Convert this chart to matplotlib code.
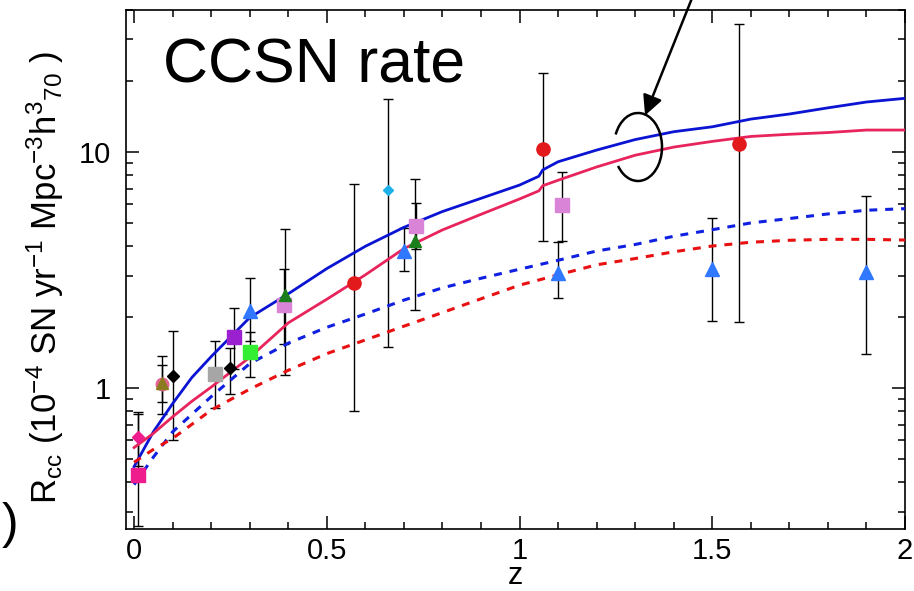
"""Core-collapse SN rate vs redshift: model curves with observed rates."""
import numpy as np
import matplotlib
matplotlib.use("Agg")
import matplotlib.pyplot as plt
from matplotlib.patches import Arc
from matplotlib.ticker import MultipleLocator, FixedLocator, LogLocator, FuncFormatter, NullFormatter

plt.rcParams["font.family"] = ["Liberation Sans", "DejaVu Sans"]
plt.rcParams["mathtext.fontset"] = "custom"
plt.rcParams["mathtext.rm"] = "Liberation Sans"
plt.rcParams["mathtext.it"] = "Liberation Sans:italic"

# --- model curves ---
z_curve = [0.0, 0.05, 0.1, 0.15, 0.2, 0.3, 0.4, 0.5, 0.6, 0.7, 0.8, 0.9, 1.0, 1.05, 1.06,
           1.1, 1.2, 1.3, 1.4, 1.5, 1.6, 1.7, 1.8, 1.9, 2.0]
blue_solid = [0.465, 0.653, 0.86, 1.11, 1.36, 1.99, 2.51, 3.21, 3.99, 4.8, 5.6, 6.37, 7.25, 7.9, 8.4,
              9.1, 10.2, 11.3, 12.2, 12.8, 13.8, 14.5, 15.4, 16.3, 16.9]
red_solid = [0.56, 0.643, 0.756, 0.88, 1.01, 1.35, 1.89, 2.38, 3.02, 3.9, 4.68, 5.45, 6.33, 6.85, 7.2,
             7.6, 8.65, 9.7, 10.5, 11.1, 11.65, 11.9, 12.1, 12.4, 12.4]
z_dash = [0.0, 0.05, 0.1, 0.2, 0.3, 0.4, 0.5, 0.6, 0.7, 0.8, 0.9, 1.0,
          1.1, 1.2, 1.3, 1.4, 1.5, 1.6, 1.7, 1.8, 1.9, 2.0]
blue_dash = [0.39, 0.51, 0.653, 0.92, 1.27, 1.55, 1.81, 2.06, 2.36, 2.66, 2.92, 3.19,
             3.48, 3.81, 4.06, 4.4, 4.69, 5.01, 5.23, 5.47, 5.67, 5.76]
red_dash = [0.485, 0.55, 0.612, 0.807, 0.99, 1.19, 1.40, 1.6, 1.83, 2.09, 2.39, 2.73,
            3.02, 3.33, 3.54, 3.78, 4.0, 4.15, 4.23, 4.27, 4.27, 4.24]

# --- observed rates ---
pt_z  = [0.01, 0.01, 0.073, 0.073, 0.102, 0.21, 0.25, 0.26, 0.30, 0.30, 0.39, 0.392,
         0.57, 0.66, 0.70, 0.73, 0.731, 1.06, 1.10, 1.109, 1.50, 1.57, 1.90]
pt_r  = [0.62, 0.43, 1.04, 1.05, 1.127, 1.15, 1.22, 1.65, 2.12, 1.42, 2.24, 2.47,
         2.79, 6.89, 3.8, 4.19, 4.85, 10.3, 3.06, 5.95, 3.19, 10.8, 3.1]
pt_lo = [0.47, 0.26, 0.78, 0.875, 0.60, 0.826, 0.946, 1.2, 1.58, 1.12, 1.54, 1.135,
         0.80, 1.5, 3.14, 2.15, 3.9, 4.2, 2.42, 4.2, 1.93, 1.9, 1.39]
pt_hi = [0.79, 0.78, 1.37, 1.25, 1.75, 1.58, 1.48, 2.19, 2.93, 1.73, 3.2, 4.74,
         7.32, 16.8, 4.75, 7.66, 6.08, 21.7, 4.14, 8.2, 5.28, 34.9, 6.5]
pt_style = [("D", "#EE1C8C", 6.5), ("s", "#EE1C8C", 9.5), ("o", "#E2638F", 9),
            ("^", "#8B7A1E", 9), ("D", "black", 6.2), ("s", "#A6A6A6", 9.5),
            ("D", "black", 6.2), ("s", "#9B20D0", 9.5), ("^", "#2F78FF", 9.5),
            ("s", "#33EE33", 9.5), ("s", "#DA84D8", 9.5), ("^", "#1A7F1A", 9),
            ("o", "#E31A1C", 9.5), ("D", "#1EB0E8", 5.5), ("^", "#2F78FF", 9.5),
            ("^", "#1A7F1A", 9), ("s", "#DA84D8", 9.5), ("o", "#E31A1C", 9.5),
            ("^", "#2F78FF", 9.5), ("s", "#DA84D8", 9.5), ("^", "#2F78FF", 9.5),
            ("o", "#E31A1C", 9.5), ("^", "#2F78FF", 9.5)]

fig = plt.figure(figsize=(9.14, 5.91), dpi=100)
ax = fig.add_axes([126/914, 1-529/591, 779/914, 519/591])

r = np.array(pt_r)
yerr = [r - np.array(pt_lo), np.array(pt_hi) - r]
ax.errorbar(pt_z, pt_r, yerr=yerr, fmt="none", ecolor="black", elinewidth=1.0,
            capsize=3.5, capthick=1.0, zorder=2)

ax.plot(z_curve, blue_solid, color="#0A14D2", lw=2.0, zorder=3)
ax.plot(z_curve, red_solid, color="#E8245C", lw=2.0, zorder=3)
ax.plot(z_dash, blue_dash, color="#1020E0", lw=2.2, ls=(0, (2.6, 2.6)), zorder=3)
ax.plot(z_dash, red_dash, color="#E81010", lw=2.2, ls=(0, (2.6, 2.6)), zorder=3)

for zz, rr, (m, c, ms) in zip(pt_z, pt_r, pt_style):
    ax.plot([zz], [rr], marker=m, color=c, ms=ms, mec=c, ls="none", zorder=4)

ax.set_yscale("log")
ax.set_xlim(-0.021, 2.0)
ax.set_ylim(0.253, 40)

ax.xaxis.set_major_locator(MultipleLocator(0.5))
ax.xaxis.set_minor_locator(MultipleLocator(0.1))
ax.xaxis.set_major_formatter(FuncFormatter(lambda v, p: f"{v:g}"))
ax.yaxis.set_major_locator(FixedLocator([1, 10]))
ax.yaxis.set_minor_locator(LogLocator(base=10, subs=np.arange(2, 10)))
ax.yaxis.set_major_formatter(FuncFormatter(lambda v, p: f"{v:g}"))
ax.yaxis.set_minor_formatter(NullFormatter())

ax.tick_params(which="both", direction="in", top=True, right=True, width=1.1, labelsize=21)
ax.tick_params(which="major", length=9.5)
ax.tick_params(which="minor", length=5)
ax.tick_params(axis="x", which="major", pad=6)
ax.tick_params(axis="y", which="major", pad=11)
for s in ax.spines.values():
    s.set_linewidth(1.2)

# axis titles
fig.text(515/914, 0.0, "z", fontsize=22, ha="center", va="bottom")
fig.text(0.05, 0.53,
         r"$\mathregular{R_{cc}\ (10^{-4}\ SN\ yr^{-1}\ Mpc^{-3}h^{3}{}_{70}\ )}$",
         rotation=90, ha="center", va="center", fontsize=25)
fig.text(0.002, 1-525/591, ")", fontsize=36, ha="left", va="center")

ax.text(0.047, 0.861, "CCSN rate", transform=ax.transAxes, fontsize=45,
        ha="left", va="baseline")

# arrow and bracket marking the solid curves
ax.annotate("", xy=(1.3256, 14.3), xytext=(1.45, 46),
            arrowprops=dict(arrowstyle="-|>", mutation_scale=30, lw=1.8, color="black",
                            shrinkA=0, shrinkB=0),
            annotation_clip=False)
ax.add_patch(Arc(((638-126)/779, (529-147)/519), 48/779, 68/519, theta1=-125, theta2=140,
                 transform=ax.transAxes, lw=1.8, color="black", zorder=5))

fig.savefig("out.png", dpi=100)
